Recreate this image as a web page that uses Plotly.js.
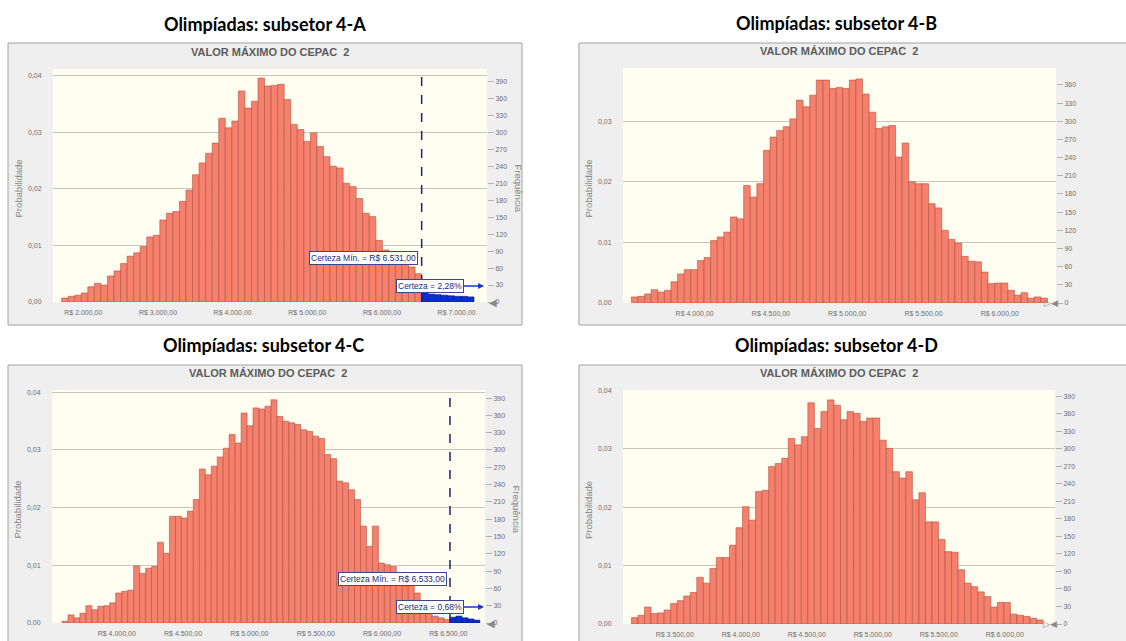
<!DOCTYPE html>
<html><head><meta charset="utf-8">
<script src="https://cdn.plot.ly/plotly-3.0.1.min.js"></script>
<style>html,body{margin:0;padding:0;background:#fff;overflow:hidden}#chart{width:1126px;height:641px}</style>
</head><body><div id="chart"></div>
<script>
// ---------- DATA ----------
const panelTitles = ["Olimpíadas: subsetor 4-A", "Olimpíadas: subsetor 4-B", "Olimpíadas: subsetor 4-C", "Olimpíadas: subsetor 4-D"];
const chartTitle = "VALOR MÁXIMO DO CEPAC  2";
const yTitle = "Probabilidade";
const y2Title = "Frequência";
const trials = 10000;

// Panel A (bin start, bin width, probabilities; tail beyond certainty in blue)
const binStartA = 1710, binWidthA = 87.65;
const probA = [0.0007,0.0010,0.0012,0.0016,0.0027,0.0033,0.0030,0.0046,0.0055,0.0068,
  0.0081,0.0087,0.0098,0.0115,0.0118,0.0145,0.0157,0.0160,0.0178,0.0198,
  0.0225,0.0246,0.0263,0.0281,0.0325,0.0308,0.0320,0.0373,0.0343,0.0355,
  0.0396,0.0382,0.0383,0.0385,0.0358,0.0314,0.0305,0.0284,0.0299,0.0275,
  0.0257,0.0240,0.0237,0.0210,0.0204,0.0183,0.0157,0.0151,0.0109,0.0092,
  0.0080,0.0074,0.0068,0.0062,0.0050];
const tailA = [0.0016,0.0014,0.0013,0.0012,0.0011,0.0010,0.0010,0.0009];
const ticksA = [2000,3000,4000,5000,6000,7000];
const tickTextA = ["R$ 2.000,00","R$ 3.000,00","R$ 4.000,00","R$ 5.000,00","R$ 6.000,00","R$ 7.000,00"];
const certMinA = 6531, certLabelA = "Certeza Mín. = R$ 6.531,00", certPctA = "Certeza = 2,28%";

// Panel B
const binStartB = 3585, binWidthB = 43.3;
const probB = [0.0010,0.0011,0.0015,0.0022,0.0018,0.0021,0.0035,0.0048,0.0055,0.0055,
  0.0070,0.0075,0.0103,0.0109,0.0117,0.0142,0.0139,0.0194,0.0175,0.0197,
  0.0252,0.0274,0.0285,0.0291,0.0304,0.0335,0.0324,0.0343,0.0368,0.0368,
  0.0354,0.0356,0.0354,0.0368,0.0370,0.0345,0.0315,0.0288,0.0291,0.0293,
  0.0241,0.0264,0.0200,0.0197,0.0197,0.0164,0.0157,0.0120,0.0105,0.0099,
  0.0077,0.0069,0.0068,0.0051,0.0032,0.0033,0.0033,0.0021,0.0013,0.0017,
  0.0008,0.0010,0.0008];
const ticksB = [4000,4500,5000,5500,6000];
const tickTextB = ["R$ 4.000,00","R$ 4.500,00","R$ 5.000,00","R$ 5.500,00","R$ 6.000,00"];

// Panel C
const binStartC = 3587.5, binWidthC = 45;
const probC = [0.0003,0.0014,0.0009,0.0017,0.0030,0.0023,0.0029,0.0030,0.0035,0.0052,
  0.0055,0.0057,0.0099,0.0086,0.0095,0.0098,0.0140,0.0121,0.0185,0.0185,
  0.0182,0.0194,0.0214,0.0267,0.0257,0.0272,0.0288,0.0303,0.0327,0.0312,
  0.0364,0.0342,0.0373,0.0371,0.0376,0.0387,0.0358,0.0350,0.0347,0.0344,
  0.0335,0.0332,0.0324,0.0320,0.0292,0.0285,0.0246,0.0243,0.0231,0.0214,
  0.0168,0.0133,0.0168,0.0104,0.0101,0.0098,0.0087,0.0064,0.0066,0.0052,
  0.0029,0.0020,0.0012,0.0009,0.0006];
const tailC = [0.0010,0.0012,0.0009,0.0007,0.0005];
const ticksC = [4000,4500,5000,5500,6000,6500];
const tickTextC = ["R$ 4.000,00","R$ 4.500,00","R$ 5.000,00","R$ 5.500,00","R$ 6.000,00","R$ 6.500,00"];
const certMinC = 6512, certLabelC = "Certeza Mín. = R$ 6.533,00", certPctC = "Certeza = 0,68%";

// Panel D
const binStartD = 3172, binWidthD = 49.5;
const probD = [0.0011,0.0015,0.0029,0.0018,0.0019,0.0024,0.0035,0.0040,0.0048,0.0054,
  0.0080,0.0070,0.0095,0.0114,0.0114,0.0135,0.0165,0.0201,0.0178,0.0227,
  0.0229,0.0270,0.0275,0.0284,0.0318,0.0307,0.0321,0.0379,0.0335,0.0364,
  0.0384,0.0375,0.0350,0.0364,0.0361,0.0347,0.0353,0.0353,0.0315,0.0301,
  0.0261,0.0250,0.0261,0.0213,0.0225,0.0175,0.0175,0.0145,0.0124,0.0123,
  0.0093,0.0070,0.0064,0.0055,0.0047,0.0029,0.0037,0.0037,0.0017,0.0015,
  0.0013,0.0010,0.0007];
const ticksD = [3500,4000,4500,5000,5500,6000];
const tickTextD = ["R$ 3.500,00","R$ 4.000,00","R$ 4.500,00","R$ 5.000,00","R$ 5.500,00","R$ 6.000,00"];
const probTicks = [0,0.01,0.02,0.03,0.04];

// ---------- LAYOUT HELPERS ----------
const W = 1126, H = 641;
const px = v => v / W, py = v => 1 - v / H;
const SALMON = '#f4806d', SAL_LINE = '#b4503f', BLUE = '#0a2fd0', BLUE_LINE = '#061a80';
const tickFont = {family: 'Liberation Sans, Arial, sans-serif', size: 7, color: '#6e6e6e'};

function barTrace(probs, start, width, xa, ya, color, line) {
  return {type: 'bar', y: probs, x0: start + width / 2, dx: width, width: width,
    xaxis: xa, yaxis: ya, marker: {color: color, line: {color: line, width: 0.6}},
    hoverinfo: 'skip', showlegend: false};
}

const panels = [
  {k: '', y2k: '5', dom: [53, 487], vdom: [69, 302], xr: [1594, 7406], yr: 0.0412, ticks: ticksA, text: tickTextA},
  {k: '2', y2k: '6', dom: [623, 1056], vdom: [68, 303], xr: [3530, 6369], yr: 0.0388, ticks: ticksB, text: tickTextB},
  {k: '3', y2k: '7', dom: [52, 485], vdom: [390, 623], xr: [3512, 6776], yr: 0.0404, ticks: ticksC, text: tickTextC},
  {k: '4', y2k: '8', dom: [623, 1055], vdom: [390, 624], xr: [3108, 6381], yr: 0.0401, ticks: ticksD, text: tickTextD}
];

const data = [
  barTrace(probA, binStartA, binWidthA, 'x', 'y', SALMON, SAL_LINE),
  barTrace(tailA, binStartA + probA.length * binWidthA, binWidthA, 'x', 'y', BLUE, BLUE_LINE),
  barTrace(probB, binStartB, binWidthB, 'x2', 'y2', SALMON, SAL_LINE),
  barTrace(probC, binStartC, binWidthC, 'x3', 'y3', SALMON, SAL_LINE),
  barTrace(tailC, binStartC + probC.length * binWidthC, binWidthC, 'x3', 'y3', BLUE, BLUE_LINE),
  barTrace(probD, binStartD, binWidthD, 'x4', 'y4', SALMON, SAL_LINE)
];
// invisible traces to activate the right-hand frequency axes
panels.forEach(p => data.push({type: 'scatter', x: [p.xr[0]], y: [0], xaxis: 'x' + p.k, yaxis: 'y' + p.y2k,
  mode: 'markers', marker: {opacity: 0}, hoverinfo: 'skip', showlegend: false}));

const layout = {
  width: W, height: H, margin: {l: 0, r: 0, t: 0, b: 0},
  paper_bgcolor: '#ffffff', plot_bgcolor: 'rgba(0,0,0,0)',
  separators: ',.', bargap: 0, barmode: 'overlay', showlegend: false,
  shapes: [], annotations: []
};

const frames = [[8, 522, 43, 325], [579, 1130, 43, 325], [8, 522, 365, 660], [579, 1130, 365, 660]];
frames.forEach(f => layout.shapes.push({type: 'rect', xref: 'paper', yref: 'paper', layer: 'below',
  x0: px(f[0]), x1: px(f[1]), y0: py(f[3]), y1: py(f[2]), fillcolor: '#efefef', line: {color: '#a2a2a2', width: 1}}));

panels.forEach((p, i) => {
  const xk = 'xaxis' + p.k, yk = 'yaxis' + p.k, y2k = 'yaxis' + p.y2k;
  layout.shapes.push({type: 'rect', xref: 'paper', yref: 'paper', layer: 'below',
    x0: px(p.dom[0]), x1: px(p.dom[1]), y0: py(p.vdom[1]), y1: py(p.vdom[0]),
    fillcolor: '#fffef0', line: {width: 0}});
  layout[xk] = {domain: [px(p.dom[0]), px(p.dom[1])], range: p.xr, anchor: 'y' + p.k,
    tickvals: p.ticks, ticktext: p.text, showgrid: false, zeroline: false,
    showline: false, ticks: 'outside', ticklen: 4, tickcolor: 'rgba(0,0,0,0)', tickfont: tickFont, fixedrange: true};
  layout[yk] = {domain: [py(p.vdom[1]), py(p.vdom[0])], range: [0, p.yr], anchor: 'x' + p.k,
    tickvals: probTicks, tickformat: '.2f', showgrid: true, gridcolor: '#c6c6bb', gridwidth: 1,
    zeroline: false, showline: false, ticks: 'outside', ticklen: 9, tickcolor: 'rgba(0,0,0,0)',
    tickfont: tickFont, fixedrange: true};
  layout[y2k] = {overlaying: 'y' + p.k, side: 'right', anchor: 'x' + p.k, range: [0, p.yr * trials],
    dtick: 30, tick0: 0, showgrid: false, zeroline: false, showline: false, ticks: 'outside', ticklen: 6,
    tickcolor: '#b0b0b0', tickfont: tickFont, fixedrange: true};

  const cx = (p.dom[0] + p.dom[1]) / 2;
  const top = p.vdom[0] - 69 + 43; // frame top
  layout.annotations.push({xref: 'paper', yref: 'paper', x: px(cx + (i % 2 ? -3 : -5)), y: py(top - 19),
    text: '<b>' + panelTitles[i] + '</b>', showarrow: false, xanchor: 'center', yanchor: 'middle',
    font: {family: 'Lato, Open Sans, sans-serif', size: 18, color: '#000'}});
  layout.annotations.push({xref: 'paper', yref: 'paper', x: px(cx), y: py(top + 9),
    text: '<b>' + chartTitle + '</b>', showarrow: false, xanchor: 'center', yanchor: 'middle',
    font: {family: 'Liberation Sans, Arial, sans-serif', size: 11, color: '#5c5c5c'}});
  layout.annotations.push({xref: 'paper', yref: 'paper', x: px(p.dom[0] - 35), y: py((p.vdom[0] + p.vdom[1]) / 2 + 3),
    text: yTitle, textangle: -90, showarrow: false, xanchor: 'center', yanchor: 'middle',
    font: {family: 'Liberation Sans, Arial, sans-serif', size: 9.5, color: '#858585'}});
  if (i % 2 === 0) {
    layout.annotations.push({xref: 'paper', yref: 'paper', x: px(p.dom[1] + 31), y: py((p.vdom[0] + p.vdom[1]) / 2 + 3),
      text: y2Title, textangle: 90, showarrow: false, xanchor: 'center', yanchor: 'middle',
      font: {family: 'Liberation Sans, Arial, sans-serif', size: 9.5, color: '#858585'}});
    layout.annotations.push({xref: 'paper', yref: 'paper', x: px(p.dom[1] + 6), y: py(p.vdom[1]),
      text: '◀', showarrow: false, xanchor: 'center', yanchor: 'middle',
      font: {family: 'DejaVu Sans', size: 10, color: '#8a8a8a'}});
  } else {
    layout.annotations.push({xref: 'paper', yref: 'paper', x: px(p.dom[1] - 5), y: py(p.vdom[1]),
      text: '▷◀', showarrow: false, xanchor: 'center', yanchor: 'middle',
      font: {family: 'DejaVu Sans', size: 9, color: '#8a8a8a'}});
  }
});

// certainty markers
[[certMinA, 'x', 'y', certLabelA, certPctA, panels[0], 418], [certMinC, 'x3', 'y3', certLabelC, certPctC, panels[2], 447]].forEach(c => {
  const p = c[5];
  layout.shapes.push({type: 'line', xref: c[1], yref: c[2] + ' domain', x0: c[0], x1: c[0], y0: 0, y1: 1,
    line: {color: '#1b237a', width: 1.5, dash: 'dash'}, layer: 'above'});
  const yb = p.vdom[1];
  layout.annotations.push({xref: 'paper', yref: 'paper', x: px(c[6]), y: py(yb - 44),
    text: c[3], showarrow: false, xanchor: 'right', yanchor: 'middle', bgcolor: '#ffffff',
    bordercolor: '#3a4782', borderwidth: 1, borderpad: 1,
    font: {family: 'Liberation Sans, Arial, sans-serif', size: 8.5, color: '#1b2a78'}});
  layout.annotations.push({xref: 'paper', yref: 'paper', x: px(396), y: py(yb - 16),
    text: c[4], showarrow: false, xanchor: 'left', yanchor: 'middle', bgcolor: '#ffffff',
    bordercolor: '#3a4782', borderwidth: 1, borderpad: 1,
    font: {family: 'Liberation Sans, Arial, sans-serif', size: 8.5, color: '#1b2a78'}});
  layout.annotations.push({xref: 'paper', yref: 'paper', x: px(484), y: py(yb - 16), text: '',
    showarrow: true, ax: -22, ay: 0, arrowhead: 2, arrowsize: 0.9, arrowwidth: 1.3, arrowcolor: '#1a35d0'});
});

Plotly.newPlot('chart', data, layout, {staticPlot: true, displayModeBar: false});
</script></body></html>
